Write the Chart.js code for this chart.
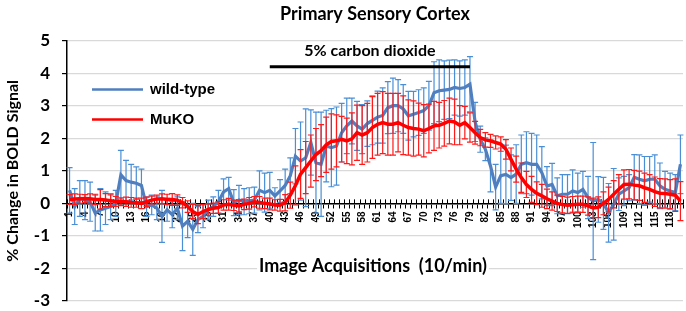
<!DOCTYPE html>
<html>
<head>
<meta charset="utf-8">
<script src="https://cdn.jsdelivr.net/npm/chart.js@4.4.1/dist/chart.umd.min.js"></script>
<style>
  html, body { margin: 0; padding: 0; background: #ffffff; }
  #wrap { width: 686px; height: 311px; }
</style>
</head>
<body>
<div id="wrap"><canvas id="c" width="686" height="311"></canvas></div>
<script>
// ---- data ----
const categories = [];
for (let i = 1; i <= 120; i++) categories.push(String(i));

const wildType = [
  0.40, -0.10, 0.15, 0.10, 0.05, -0.30, -0.20, -0.15, -0.10, 0.00,
  0.88, 0.70, 0.65, 0.62, 0.55, -0.10, -0.05, -0.15, -0.40, -0.20,
  -0.35, -0.15, -0.70, -0.55, -0.80, -0.50, -0.40, -0.20, -0.10, 0.05,
  0.35, 0.45, 0.02, 0.10, 0.05, 0.08, 0.10, 0.40, 0.33, 0.40,
  0.23, 0.38, 0.55, 0.85, 1.45, 1.30, 1.40, 1.87, 1.25, 1.20,
  1.76, 1.71, 1.76, 2.17, 2.38, 2.53, 2.38, 2.28, 2.45, 2.55,
  2.65, 2.70, 2.94, 3.00, 3.00, 2.90, 2.69, 2.74, 2.79, 2.85,
  3.00, 3.40, 3.46, 3.48, 3.50, 3.56, 3.53, 3.56, 3.66, 2.50,
  1.97, 1.66, 1.15, 0.50, 0.85, 0.89, 0.79, 0.90, 1.20, 1.25,
  1.20, 1.20, 0.94, 0.53, 0.58, 0.23, 0.28, 0.28, 0.38, 0.33,
  0.43, 0.18, 0.07, 0.12, 0.00, -0.29, -0.03, 0.28, 0.38, 0.48,
  0.80, 0.74, 0.69, 0.74, 0.74, 0.54, 0.43, 0.38, 0.33, 1.20
];
const wildTypeErr = [
  0.70, 0.55, 0.55, 0.60, 0.60, 0.55, 0.65, 0.50, 0.40, 0.40,
  0.75, 0.62, 0.55, 0.50, 0.50, 0.30, 0.30, 0.35, 0.80, 0.35,
  0.40, 0.35, 0.75, 0.50, 0.80, 0.40, 0.35, 0.30, 0.30, 0.35,
  0.40, 0.35, 0.40, 0.45, 0.40, 0.40, 0.40, 0.60, 0.60, 0.55,
  0.25, 0.35, 0.50, 0.55, 0.85, 1.20, 1.50, 1.00, 1.55, 1.60,
  1.10, 1.20, 1.20, 0.90, 0.85, 0.70, 0.75, 0.75, 0.70, 0.75,
  0.80, 0.85, 0.80, 0.85, 0.80, 0.75, 0.75, 0.70, 0.70, 0.70,
  0.75, 0.95, 0.95, 0.90, 0.90, 0.85, 0.85, 0.85, 0.85, 0.60,
  0.40, 0.35, 0.80, 0.70, 0.85, 0.90, 0.70, 0.90, 0.90, 0.95,
  0.95, 0.90, 0.80, 0.60, 0.65, 0.55, 0.60, 0.60, 0.65, 0.60,
  0.55, 0.65, 1.80, 0.70, 0.80, 0.90, 1.10, 0.50, 0.45, 0.40,
  0.70, 0.75, 0.75, 0.70, 0.75, 0.70, 0.55, 0.55, 0.55, 0.90
];
const muKO = [
  0.12, 0.13, 0.14, 0.15, 0.14, 0.12, 0.12, 0.10, 0.08, 0.06,
  0.05, 0.05, 0.03, 0.02, 0.00, 0.05, 0.10, 0.13, 0.14, 0.12,
  0.12, 0.10, 0.02, -0.10, -0.25, -0.34, -0.25, -0.19, -0.15, -0.13,
  -0.05, -0.03, -0.06, -0.08, -0.03, 0.00, 0.05, 0.03, 0.00, -0.02,
  -0.05, -0.06, 0.02, 0.25, 0.55, 0.90, 1.10, 1.30, 1.50, 1.62,
  1.80, 1.90, 1.92, 1.97, 1.92, 1.98, 2.17, 2.10, 2.17, 2.33,
  2.43, 2.48, 2.43, 2.43, 2.48, 2.40, 2.33, 2.30, 2.28, 2.23,
  2.30, 2.38, 2.40, 2.46, 2.53, 2.50, 2.40, 2.48, 2.33, 2.17,
  2.02, 1.95, 1.92, 1.87, 1.82, 1.66, 1.35, 1.05, 0.79, 0.58,
  0.43, 0.31, 0.23, 0.14, 0.07, 0.00, -0.04, -0.06, -0.04, -0.03,
  -0.03, -0.08, -0.14, -0.12, 0.00, 0.12, 0.28, 0.43, 0.58, 0.59,
  0.56, 0.54, 0.48, 0.43, 0.36, 0.31, 0.30, 0.28, 0.25, 0.07
];
const muKOErr = [
  0.15, 0.16, 0.14, 0.12, 0.15, 0.16, 0.30, 0.20, 0.18, 0.15,
  0.12, 0.14, 0.15, 0.14, 0.16, 0.14, 0.12, 0.12, 0.15, 0.16,
  0.18, 0.16, 0.16, 0.18, 0.22, 0.28, 0.22, 0.18, 0.16, 0.18,
  0.16, 0.18, 0.16, 0.18, 0.16, 0.18, 0.16, 0.18, 0.16, 0.18,
  0.16, 0.18, 0.25, 0.40, 0.60, 0.75, 0.80, 0.80, 0.80, 0.80,
  0.85, 0.85, 0.80, 0.70, 0.70, 0.80, 0.85, 0.90, 0.90, 0.95,
  0.95, 0.95, 0.95, 0.95, 0.90, 0.90, 0.85, 0.85, 0.80, 0.80,
  0.75, 0.75, 0.70, 0.70, 0.70, 0.70, 0.60, 0.50, 0.45, 0.35,
  0.25, 0.22, 0.20, 0.20, 0.22, 0.30, 0.35, 0.40, 0.45, 0.40,
  0.40, 0.35, 0.35, 0.30, 0.28, 0.25, 0.25, 0.25, 0.25, 0.25,
  0.25, 0.28, 0.30, 0.32, 0.35, 0.38, 0.42, 0.45, 0.45, 0.45,
  0.45, 0.45, 0.45, 0.45, 0.45, 0.45, 0.45, 0.45, 0.50, 0.60
];
const yTicks = [-3, -2, -1, 0, 1, 2, 3, 4, 5];
const stimulus = { label: '5% carbon dioxide', start: '40', end: '79', level: 4.2, textLevel: 4.68 };
const xTitle = 'Image Acquisitions  (10/min)';

const seriesErrors = { 'wild-type': wildTypeErr, 'MuKO': muKOErr };
const errColors = { 'wild-type': '#4a8fd6', 'MuKO': '#ff1a1a' };

const extras = {
  id: 'extras',
  beforeDatasetsDraw(chart) {
    const xs = chart.scales.x, ys = chart.scales.y;
    const ctx = chart.ctx;
    const y0 = ys.getPixelForValue(0);
    const step = xs.getPixelForValue(1) - xs.getPixelForValue(0);
    ctx.save();
    ctx.strokeStyle = '#000';
    ctx.lineWidth = 1;
    ctx.beginPath();
    for (let i = 0; i <= categories.length; i++) {
      const px = Math.round(xs.getPixelForValue(0) - step / 2 + i * step) + 0.5;
      ctx.moveTo(px, y0 - 4); ctx.lineTo(px, y0);
    }
    ctx.stroke();
    ctx.restore();
  },
  beforeDatasetDraw(chart, args) {
    const ds = chart.data.datasets[args.index];
    const errs = seriesErrors[ds.label];
    const xs = chart.scales.x, ys = chart.scales.y;
    const ctx = chart.ctx;
    ctx.save();
    ctx.strokeStyle = errColors[ds.label];
    ctx.lineWidth = 1.2;
    ds.data.forEach((v, i) => {
      const px = xs.getPixelForValue(i);
      const t = ys.getPixelForValue(v + errs[i]);
      const b = ys.getPixelForValue(v - errs[i]);
      ctx.beginPath();
      ctx.moveTo(px, t); ctx.lineTo(px, b);
      ctx.moveTo(px - 3, t); ctx.lineTo(px + 3, t);
      ctx.moveTo(px - 3, b); ctx.lineTo(px + 3, b);
      ctx.stroke();
    });
    ctx.restore();
  },
  afterDraw(chart) {
    const ctx = chart.ctx;
    const xs = chart.scales.x, ys = chart.scales.y;
    const ca = chart.chartArea;
    ctx.save();
    const x0 = xs.getPixelForValue(categories.indexOf(stimulus.start));
    const x1 = xs.getPixelForValue(categories.indexOf(stimulus.end));
    const yb = ys.getPixelForValue(stimulus.level);
    ctx.strokeStyle = '#000';
    ctx.lineWidth = 3;
    ctx.beginPath(); ctx.moveTo(x0, yb); ctx.lineTo(x1, yb); ctx.stroke();
    ctx.fillStyle = '#000';
    ctx.font = 'bold 16px Lato';
    ctx.textAlign = 'center';
    ctx.textBaseline = 'middle';
    ctx.fillText(stimulus.label, (x0 + x1) / 2, ys.getPixelForValue(stimulus.textLevel));
    ctx.font = 'bold 18px Lato';
    const tx = (ca.left + ca.right) / 2 - 2;
    const ty = ys.getPixelForValue(0) + 63;
    const tw = ctx.measureText(xTitle).width;
    ctx.fillStyle = '#fff';
    ctx.fillRect(tx - tw / 2 - 2, ty - 9, tw + 4, 18);
    ctx.fillStyle = '#000';
    ctx.fillText(xTitle, tx, ty);
    ctx.textAlign = 'left';
    ctx.font = 'bold 15px "Liberation Sans"';
    chart.data.datasets.forEach((ds, i) => {
      const ly = ca.top + 49 + i * 30;
      ctx.strokeStyle = ds.borderColor;
      ctx.lineWidth = 2.5;
      ctx.beginPath(); ctx.moveTo(ca.left + 25, ly); ctx.lineTo(ca.left + 76, ly); ctx.stroke();
      ctx.fillStyle = '#000';
      ctx.fillText(ds.label, ca.left + 83, ly);
    });
    ctx.restore();
  }
};

new Chart(document.getElementById('c'), {
  type: 'line',
  data: {
    labels: categories,
    datasets: [
      { label: 'wild-type', data: wildType, borderColor: '#4f7fbf', borderWidth: 3.2, pointRadius: 0, tension: 0, order: 2 },
      { label: 'MuKO', data: muKO, borderColor: '#ff0000', borderWidth: 3.5, pointRadius: 0, tension: 0, order: 1 }
    ]
  },
  options: {
    responsive: false,
    animation: false,
    devicePixelRatio: 1,
    layout: { padding: { left: 0, right: 3, top: 0, bottom: 10 } },
    plugins: {
      legend: { display: false },
      tooltip: { enabled: false },
      title: {
        display: true,
        text: 'Primary Sensory Cortex',
        fullSize: false,
        color: '#000',
        font: { family: 'Lato', size: 18, weight: 'bold' },
        padding: { top: 3, bottom: 16 }
      }
    },
    scales: {
      x: {
        type: 'category',
        position: { y: 0 },
        offset: true,
        border: { color: '#000', width: 1.5 },
        grid: { drawOnChartArea: false, drawTicks: true, tickLength: 4, tickColor: '#000', offset: true },
        ticks: {
          autoSkip: false,
          maxRotation: 90,
          minRotation: 90,
          padding: 4,
          color: '#000',
          font: { family: 'Liberation Sans', size: 10, weight: 'bold' },
          callback: function (value, index) { return index % 3 === 0 ? this.getLabelForValue(value) : ''; }
        },
        afterFit: (scale) => {
          scale.paddingLeft = 0; scale.paddingRight = 0; scale.paddingTop = 0; scale.paddingBottom = 0;
        }
      },
      y: {
        min: -3,
        max: 5,
        afterBuildTicks: (scale) => { scale.ticks = yTicks.map(v => ({ value: v })); },
        afterFit: (scale) => {
          scale.width = 67;
          scale.paddingTop = 0; scale.paddingBottom = 0;
        },
        border: { color: '#000', width: 1.5 },
        grid: { color: '#d9d9d9', lineWidth: 1.2, tickLength: 5, tickColor: '#000' },
        ticks: {
          padding: 12,
          color: '#000',
          font: { family: 'Lato', size: 17, weight: 'bold' }
        },
        title: {
          display: true,
          text: '% Change in BOLD Signal',
          color: '#000',
          font: { family: 'Lato', size: 16, weight: 'bold' },
          padding: { top: 3, bottom: 13 }
        }
      }
    }
  },
  plugins: [extras]
});
</script>
</body>
</html>
